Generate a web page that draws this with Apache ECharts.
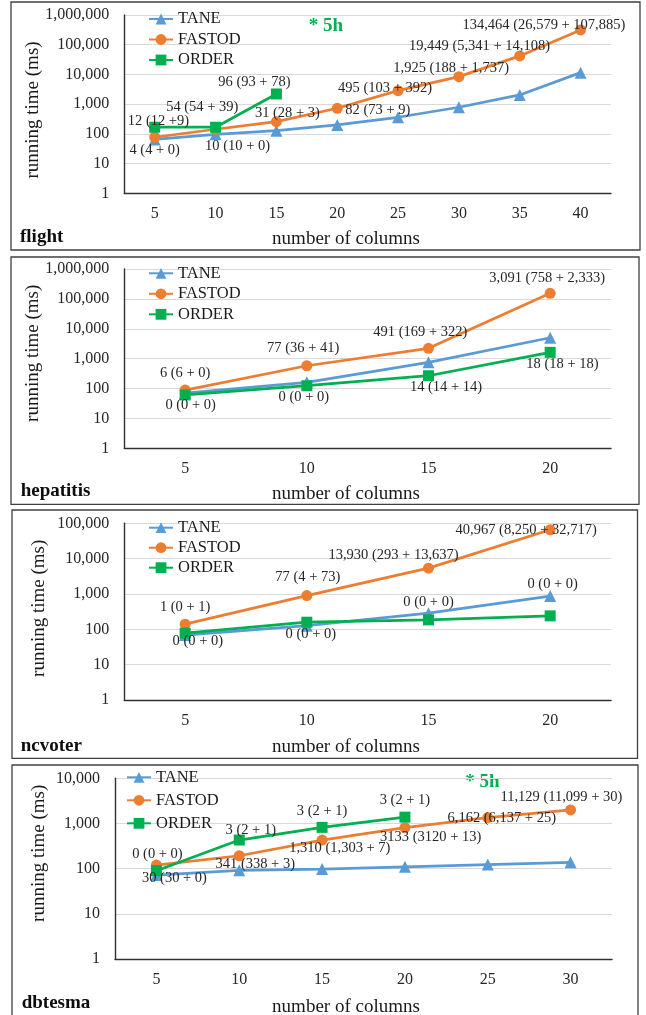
<!DOCTYPE html>
<html>
<head>
<meta charset="utf-8">
<script src="https://cdn.jsdelivr.net/npm/echarts@6/dist/echarts.min.js"></script>
<style>
html,body{margin:0;padding:0;background:#fff;}
#c{width:646px;height:1015px;}
</style>
</head>
<body>
<div id="c"></div>
<script>
// ---------- data ----------
const seriesNames = ['TANE', 'FASTOD', 'ORDER'];
const panelNames = ['flight', 'hepatitis', 'ncvoter', 'dbtesma'];
const yTickMax = [1000000, 1000000, 100000, 10000];

const flightCols = ['5', '10', '15', '20', '25', '30', '35', '40'];
const flightTane = [65, 97, 128, 199, 362, 787, 2040, 11500];
const flightFastod = [77, 143, 258, 727, 2850, 8430, 42000, 315000];
const flightOrder = [167, 167, 2200];
const flightTaneText = ['4 (4 + 0)', '10 (10 + 0)'];
const flightFastodText = [null, null, '31 (28 + 3)', '82 (73 + 9)', '495 (103 + 392)', '1,925 (188 + 1,737)', '19,449 (5,341 + 14,108)', '134,464 (26,579 + 107,885)'];
const flightOrderText = ['12 (12 +9)', '54 (54 + 39)', '96 (93 + 78)'];

const hepatitisCols = ['5', '10', '15', '20'];
const hepatitisTane = [70, 161, 752, 5000];
const hepatitisFastod = [89, 579, 2210, 153000];
const hepatitisOrder = [61, 124, 268, 1625];
const hepatitisTaneText = [];
const hepatitisFastodText = ['6 (6 + 0)', '77 (36 + 41)', '491 (169 + 322)', '3,091 (758 + 2,333)'];
const hepatitisOrderText = ['0 (0 + 0)', '0 (0 + 0)', '14 (14 + 14)', '18 (18 + 18)'];

const ncvoterCols = ['5', '10', '15', '20'];
const ncvoterTane = [69, 127, 286, 870];
const ncvoterFastod = [140, 900, 5380, 65500];
const ncvoterOrder = [78, 159, 185, 240];
const ncvoterTaneText = [null, '0 (0 + 0)', '0 (0 + 0)', '0 (0 + 0)'];
const ncvoterFastodText = ['1 (0 + 1)', '77 (4 + 73)', '13,930 (293 + 13,637)', '40,967 (8,250 + 32,717)'];
const ncvoterOrderText = ['0 (0 + 0)'];

const dbtesmaCols = ['5', '10', '15', '20', '25', '30'];
const dbtesmaTane = [72, 92, 98, 110, 123, 138];
const dbtesmaFastod = [120, 193, 430, 807, 1350, 2000];
const dbtesmaOrder = [90, 430, 820, 1380];
const dbtesmaTaneText = ['30 (30 + 0)'];
const dbtesmaFastodText = ['0 (0 + 0)', '341 (338 + 3)', '1,310 (1,303 + 7)', '3133 (3120 + 13)', '6,162 (6,137 + 25)', '11,129 (11,099 + 30)'];
const dbtesmaOrderText = [null, '3 (2 + 1)', '3 (2 + 1)', '3 (2 + 1)'];

const timeoutNote = '* 5h';

// ---------- layout / style (not data) ----------
const FONT = '"Liberation Serif", "Times New Roman", serif';
const COLORS = {TANE: '#5b9bd5', FASTOD: '#ed7d31', ORDER: '#00b050'};
const SYMBOLS = {TANE: 'triangle', FASTOD: 'circle', ORDER: 'rect'};
const SYMSIZE = {TANE: 12, FASTOD: 11, ORDER: 11};

const grids = [
  {left: 124.3, top: 15, width: 486.7, height: 178.3},
  {left: 124.3, top: 269, width: 486.7, height: 179.3},
  {left: 124.3, top: 523.3, width: 486.7, height: 176.7},
  {left: 115, top: 778.3, width: 497, height: 180.7}
];
const frames = [
  {x: 11, y: 2, width: 629, height: 248},
  {x: 11, y: 257, width: 628, height: 247.3},
  {x: 12, y: 510, width: 625.5, height: 248.3},
  {x: 12, y: 765, width: 626, height: 262}
];
const legendPos = [
  {left: 148, top: 10.5, gap: 3.5},
  {left: 148, top: 264.8, gap: 3.5},
  {left: 148, top: 519.2, gap: 3},
  {left: 126, top: 768.8, gap: 6}
];
const yTitlePos = [[33, 110], [33, 353.3], [39.3, 608.3], [39.3, 853.3]];
const xTitlePos = [[346, 239.3], [346, 494.3], [346, 747.3], [346, 1006.7]];
const namePos = [[20, 237.3], [20.7, 491], [20.7, 746], [21.7, 1003.3]];
const notePos = [[326, 26], [482.5, 781.7]];

// label offsets relative to their point (styling)
const offsets = {
  flight: {
    TANE: [[0, 10.5], [22, 12.4]],
    FASTOD: [null, null, [11, -8.4], [40.6, 1.7], [-13, -2.4], [-7.8, -8.4], [-40.3, -9.3], [-36.7, -5]],
    ORDER: [[3.7, -5.6], [-13.3, -20], [-22, -11.3]]
  },
  hepatitis: {
    TANE: [],
    FASTOD: [[0, -16.7], [-3.6, -18], [-8.2, -16], [-3, -15.6]],
    ORDER: [[5.5, 10.7], [-3, 11], [17.5, 11], [12.3, 12]]
  },
  ncvoter: {
    TANE: [null, [4, 8.6], [0, -10.7], [2.5, -11.7]],
    FASTOD: [[0, -16.6], [1, -18], [-35, -13.3], [-24, 0]],
    ORDER: [[12.7, 8.4]]
  },
  dbtesma: {
    TANE: [[18, 3]],
    FASTOD: [[1, -11], [16, 8.6], [17.7, 8.3], [25.8, 9.6], [14, 0.6], [-9.2, -12.7]],
    ORDER: [null, [11.5, -10], [0, -16.3], [0, -17.4]]
  }
};

const panels = [
  {cols: flightCols, vals: {TANE: flightTane, FASTOD: flightFastod, ORDER: flightOrder},
   text: {TANE: flightTaneText, FASTOD: flightFastodText, ORDER: flightOrderText}},
  {cols: hepatitisCols, vals: {TANE: hepatitisTane, FASTOD: hepatitisFastod, ORDER: hepatitisOrder},
   text: {TANE: hepatitisTaneText, FASTOD: hepatitisFastodText, ORDER: hepatitisOrderText}},
  {cols: ncvoterCols, vals: {TANE: ncvoterTane, FASTOD: ncvoterFastod, ORDER: ncvoterOrder},
   text: {TANE: ncvoterTaneText, FASTOD: ncvoterFastodText, ORDER: ncvoterOrderText}},
  {cols: dbtesmaCols, vals: {TANE: dbtesmaTane, FASTOD: dbtesmaFastod, ORDER: dbtesmaOrder},
   text: {TANE: dbtesmaTaneText, FASTOD: dbtesmaFastodText, ORDER: dbtesmaOrderText}}
];

function fmt(v) {
  return String(Math.round(v)).replace(/\B(?=(\d{3})+(?!\d))/g, ',');
}

const option = {
  animation: false,
  textStyle: {fontFamily: FONT},
  grid: [], xAxis: [], yAxis: [], series: [], legend: [], graphic: []
};

panels.forEach((p, gi) => {
  const pname = panelNames[gi];
  option.grid.push(Object.assign({containLabel: false}, grids[gi]));
  option.xAxis.push({
    type: 'category', gridIndex: gi, data: p.cols, boundaryGap: true,
    axisLine: {show: true, lineStyle: {color: '#303030', width: 1.4}},
    axisTick: {show: false},
    axisLabel: {fontSize: 16, color: '#262626', fontFamily: FONT, margin: 12.5},
    splitLine: {show: false}
  });
  option.yAxis.push({
    type: 'log', logBase: 10, gridIndex: gi, min: 1, max: yTickMax[gi],
    axisLine: {show: true, lineStyle: {color: '#303030', width: 1.4}},
    axisTick: {show: false},
    minorTick: {show: false},
    axisLabel: {fontSize: 16, color: '#262626', fontFamily: FONT, margin: 15, formatter: fmt},
    splitLine: {show: true, lineStyle: {color: '#d9d9d9', width: 1.2}}
  });
  seriesNames.forEach(sn => {
    const vals = p.vals[sn];
    const texts = p.text[sn] || [];
    const offs = offsets[pname][sn] || [];
    option.series.push({
      type: 'line', name: sn, xAxisIndex: gi, yAxisIndex: gi,
      symbol: SYMBOLS[sn], symbolSize: SYMSIZE[sn], showAllSymbol: true,
      lineStyle: {color: COLORS[sn], width: 2.75},
      itemStyle: {color: COLORS[sn]},
      label: {show: false, position: 'inside', fontSize: 14.5, color: '#262626', fontFamily: FONT},
      emphasis: {disabled: true},
      data: vals.map((v, i) => {
        const item = {value: v};
        if (texts[i]) {
          item.label = {show: true, formatter: texts[i], offset: offs[i] || [0, 0]};
        }
        return item;
      })
    });
  });
  option.legend.push({
    orient: 'vertical', left: legendPos[gi].left, top: legendPos[gi].top,
    padding: 0, itemGap: legendPos[gi].gap, itemWidth: 24, itemHeight: 13.5,
    data: seriesNames, selectedMode: false,
    textStyle: {fontSize: 16.5, color: '#1a1a1a', fontFamily: FONT, lineHeight: 17}
  });
  option.graphic.push({
    type: 'rect', shape: frames[gi], silent: true, z: -1,
    style: {fill: 'none', stroke: '#404040', lineWidth: 1.3}
  });
  option.graphic.push({
    type: 'text', x: yTitlePos[gi][0], y: yTitlePos[gi][1], rotation: Math.PI / 2,
    style: {text: 'running time (ms)', fontSize: 19, fontFamily: FONT, fill: '#1a1a1a', align: 'center', verticalAlign: 'middle'}
  });
  option.graphic.push({
    type: 'text', x: xTitlePos[gi][0], y: xTitlePos[gi][1],
    style: {text: 'number of columns', fontSize: 19, fontFamily: FONT, fill: '#1a1a1a', align: 'center', verticalAlign: 'middle'}
  });
  option.graphic.push({
    type: 'text', x: namePos[gi][0], y: namePos[gi][1],
    style: {text: pname, fontSize: 19, fontWeight: 'bold', fontFamily: FONT, fill: '#0d0d0d', align: 'left', verticalAlign: 'middle'}
  });
});

notePos.forEach(pos => {
  option.graphic.push({
    type: 'text', x: pos[0], y: pos[1],
    style: {text: timeoutNote, fontSize: 19, fontWeight: 'bold', fontFamily: FONT, fill: '#00b050', align: 'center', verticalAlign: 'middle'}
  });
});

const chart = echarts.init(document.getElementById('c'), null, {renderer: 'canvas'});
chart.setOption(option);
</script>
</body>
</html>
